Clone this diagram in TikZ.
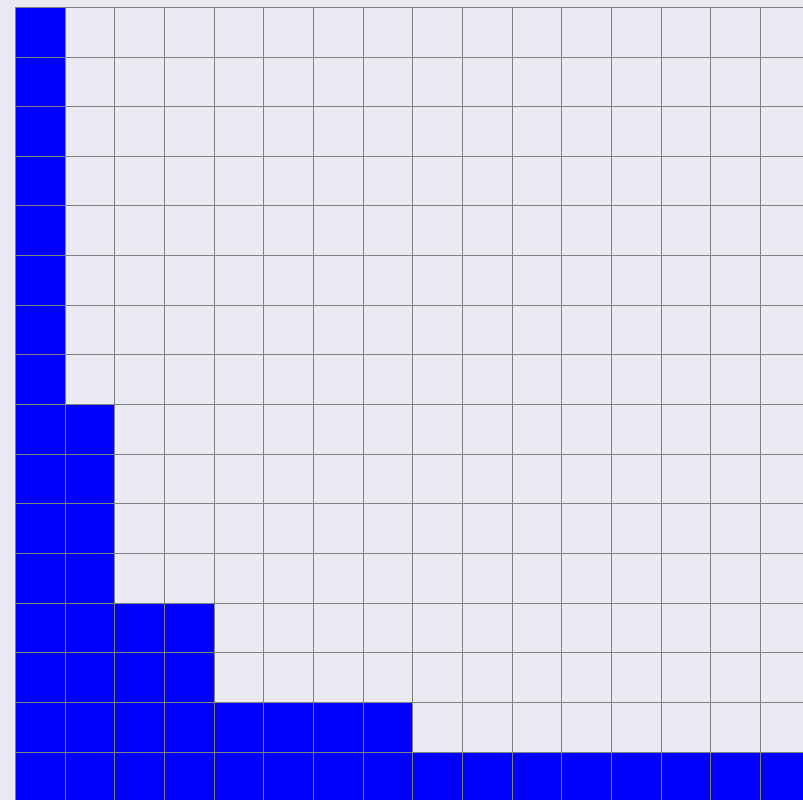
\documentclass[tikz,border=0pt]{standalone}
\definecolor{bgcol}{HTML}{EAEAF2}
\definecolor{gridcol}{HTML}{808080}
\tikzset{
  cellfill/.style={fill=blue, draw=none},
  gridline/.style={draw=gridcol, line width=0.9pt}
}
\begin{document}
\begin{tikzpicture}[x=1pt,y=-1pt]
\useasboundingbox (0,0) rectangle (803,800);
\fill[bgcol] (0,0) rectangle (803,800);
\def\cs{49.66}
\def\ox{15.5}
\def\oy{7.3}
\begin{scope}
\clip (0,0) rectangle (803,800);
% blue cells: row/width pairs
\foreach \r/\w in {0/1,1/1,2/1,3/1,4/1,5/1,6/1,7/1,8/2,9/2,10/2,11/2,12/4,13/4,14/8,15/16}{
  \fill[cellfill] ({\ox},{\oy+\r*\cs}) rectangle ({\ox+\w*\cs},{\oy+(\r+1)*\cs});
}
% grid lines
\foreach \k in {0,...,16}{
  \draw[gridline] ({\ox+\k*\cs},{\oy}) -- ({\ox+\k*\cs},{\oy+16*\cs});
  \draw[gridline] ({\ox},{\oy+\k*\cs}) -- ({\ox+16*\cs},{\oy+\k*\cs});
}
\end{scope}
\end{tikzpicture}
\end{document}
